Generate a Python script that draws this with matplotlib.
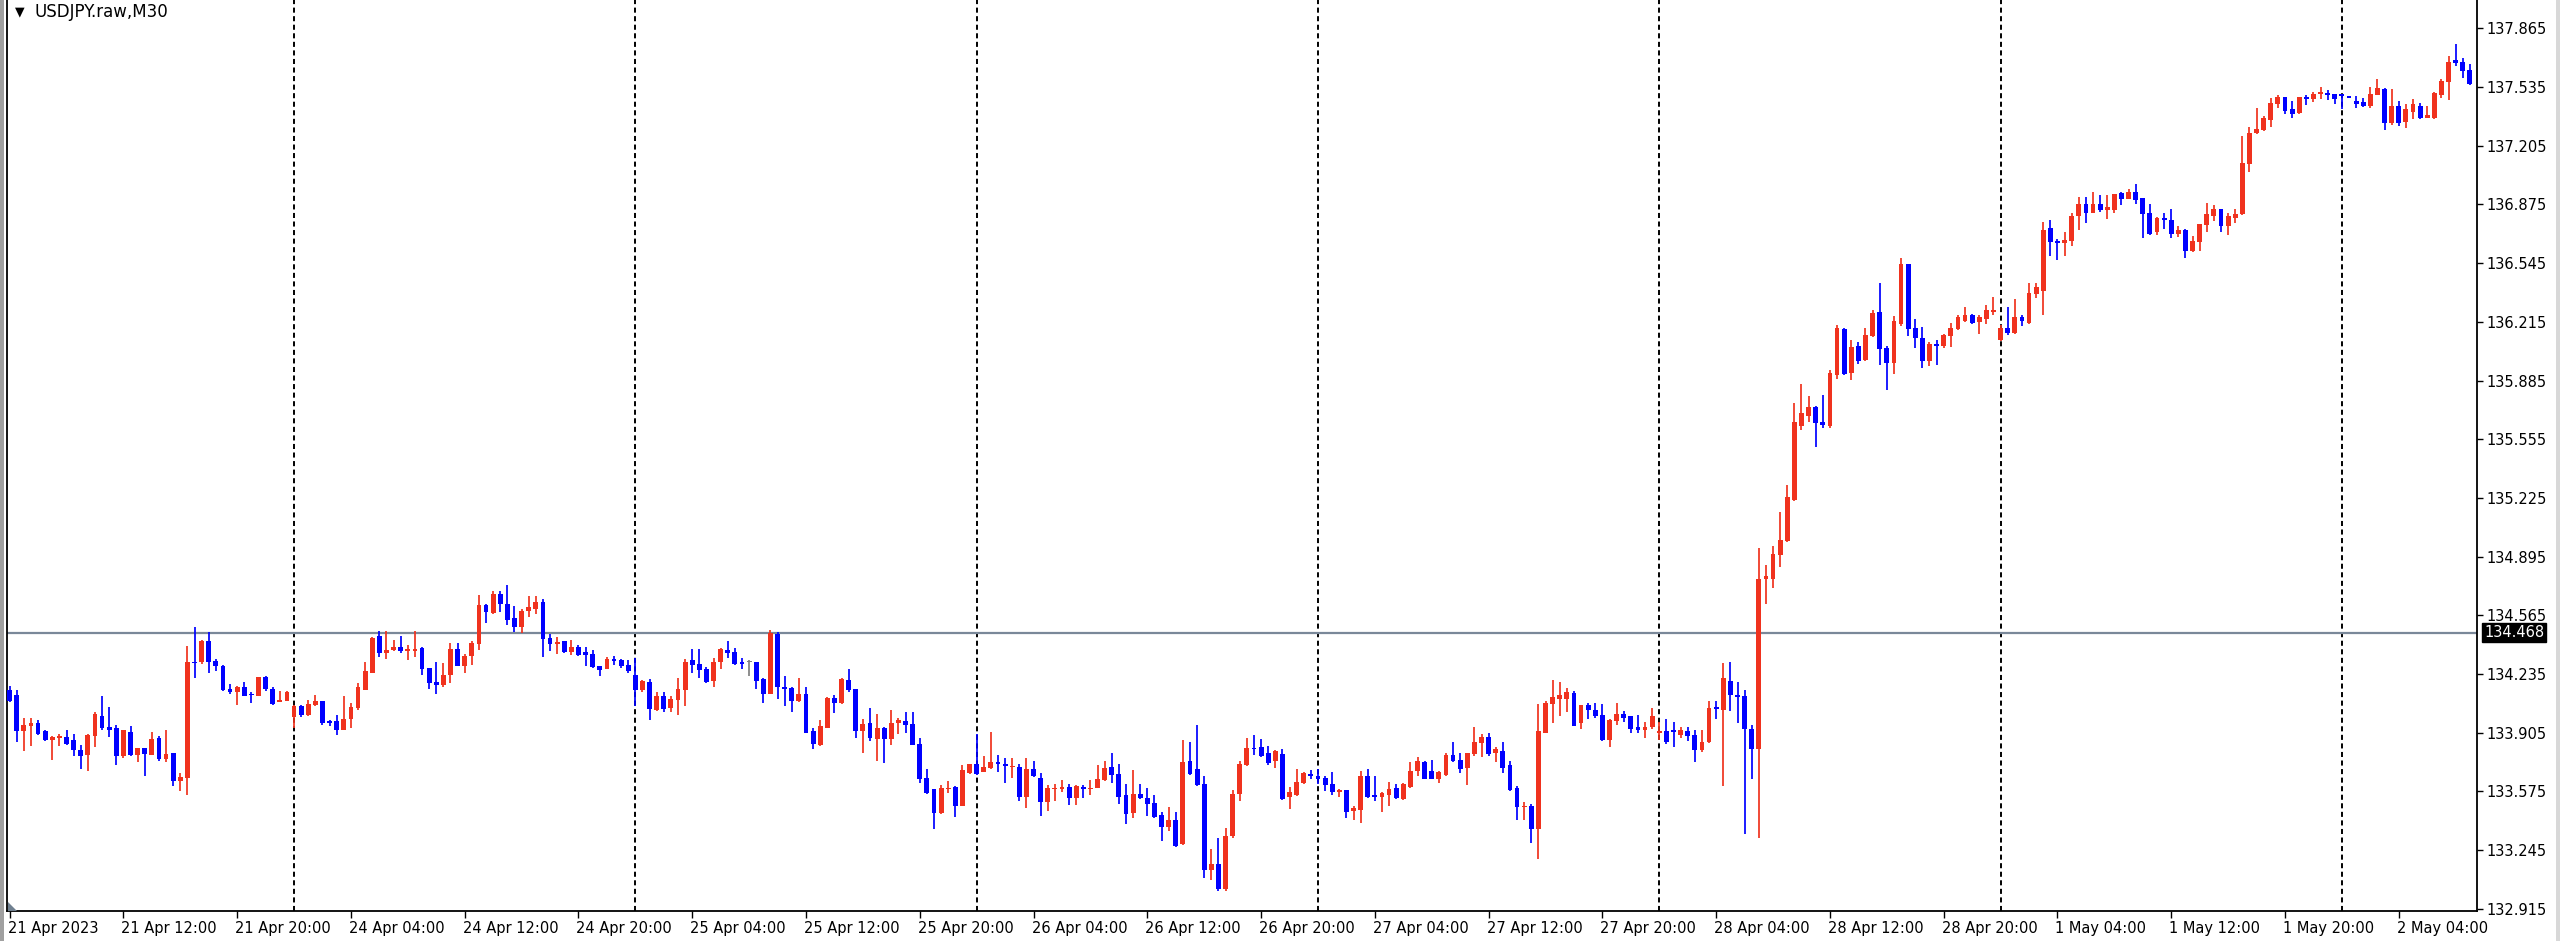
import matplotlib
matplotlib.use("Agg")
import matplotlib.pyplot as plt
from matplotlib.patches import Rectangle, Polygon

# ---------------- data (USDJPY.raw, M30) ----------------
open_ = [134.147,134.119,133.913,133.941,133.960,133.913,133.866,133.875,133.881,133.862,
133.810,133.781,133.885,134.001,133.939,133.931,133.772,133.909,133.781,133.819,
133.781,133.875,133.759,133.791,133.631,133.650,134.303,134.300,134.419,134.310,
134.282,134.151,134.134,134.160,134.123,134.113,134.218,134.153,134.076,134.082,
133.993,134.053,134.003,134.063,134.082,133.965,133.969,133.922,133.982,134.045,
134.147,134.241,134.449,134.354,134.372,134.389,134.367,134.363,134.382,134.269,
134.188,134.175,134.228,134.378,134.282,134.335,134.404,134.622,134.579,134.687,
134.629,134.551,134.500,134.588,134.603,134.639,134.438,134.404,134.419,134.359,
134.389,134.357,134.350,134.279,134.263,134.320,134.314,134.286,134.232,134.143,
134.192,134.031,134.112,134.046,134.087,134.143,134.312,134.294,134.265,134.196,
134.303,134.371,134.361,134.299,134.301,134.303,134.205,134.125,134.459,134.162,
134.155,134.083,134.121,133.915,133.836,133.933,134.102,134.074,134.200,134.149,
133.915,133.961,133.868,133.933,133.868,133.957,133.971,133.952,133.840,133.652,
133.586,133.455,133.586,133.601,133.496,133.680,133.731,133.686,133.705,133.740,
133.722,133.710,133.712,133.543,133.699,133.652,133.515,133.586,133.586,133.601,
133.539,133.599,133.586,133.596,133.637,133.712,133.674,133.553,133.455,133.562,
133.539,133.511,133.440,133.374,133.417,133.281,133.749,133.699,133.618,133.136,
133.168,133.024,133.324,133.558,133.723,133.821,133.825,133.791,133.745,133.784,
133.545,133.557,133.623,133.671,133.664,133.653,133.619,133.571,133.584,133.463,
133.469,133.664,133.557,133.545,133.557,133.596,133.531,133.600,133.692,133.738,
133.690,133.646,133.669,133.779,133.752,133.706,133.784,133.848,133.882,133.791,
133.802,133.722,133.596,133.485,133.492,133.366,133.905,134.066,134.096,134.096,
134.128,133.958,134.062,134.032,134.004,133.866,133.969,134.013,133.997,133.935,
133.922,133.935,133.905,133.917,133.922,133.894,133.917,133.894,133.807,133.851,
134.050,134.032,134.197,134.119,134.112,133.928,133.814,134.768,134.771,134.904,
134.985,135.214,135.627,135.685,135.735,135.650,135.627,135.915,136.172,135.926,
136.080,136.002,136.133,136.270,136.069,135.984,136.200,136.538,136.178,136.125,
135.994,136.088,136.078,136.138,136.172,136.222,136.256,136.213,136.232,136.271,
136.110,136.178,136.153,136.241,136.209,136.374,136.391,136.740,136.669,136.660,
136.669,136.809,136.879,136.828,136.879,136.841,136.841,136.941,136.905,136.946,
136.909,136.828,136.721,136.796,136.785,136.710,136.729,136.613,136.665,136.758,
136.809,136.847,136.753,136.800,136.819,137.104,137.278,137.291,137.347,137.441,
137.479,137.409,137.391,137.479,137.466,137.497,137.503,137.497,137.497,137.484,
137.456,137.453,137.428,137.490,137.522,137.334,137.428,137.340,137.396,137.428,
137.362,137.362,137.490,137.565,137.687,137.678,137.629]

high = [134.166,134.147,133.988,133.988,133.978,133.922,133.885,133.898,133.918,133.898,
133.838,133.898,134.021,134.110,134.050,133.946,133.918,133.941,133.819,133.819,
133.907,133.885,133.920,133.791,133.678,134.391,134.500,134.429,134.470,134.322,
134.288,134.179,134.170,134.188,134.134,134.218,134.222,134.160,134.138,134.142,
134.063,134.063,134.091,134.119,134.082,133.978,134.007,134.110,134.072,134.185,
134.303,134.442,134.479,134.479,134.429,134.447,134.397,134.479,134.385,134.269,
134.301,134.297,134.410,134.410,134.350,134.419,134.682,134.626,134.701,134.701,
134.738,134.616,134.601,134.676,134.672,134.657,134.460,134.444,134.423,134.429,
134.397,134.385,134.370,134.279,134.329,134.335,134.322,134.316,134.325,134.202,
134.205,134.134,134.134,134.112,134.211,134.322,134.374,134.374,134.275,134.323,
134.380,134.421,134.380,134.323,134.312,134.303,134.215,134.481,134.474,134.224,
134.162,134.211,134.162,133.933,133.975,134.105,134.115,134.211,134.262,134.153,
133.980,134.042,134.012,133.935,134.031,133.986,134.021,134.021,133.873,133.699,
133.586,133.614,133.633,133.603,133.723,133.731,133.900,133.774,133.911,133.780,
133.765,133.761,133.727,133.761,133.749,133.680,133.614,133.618,133.637,133.618,
133.614,133.614,133.637,133.723,133.749,133.793,133.731,133.618,133.693,133.618,
133.592,133.554,133.461,133.489,133.461,133.862,133.853,133.948,133.661,133.249,
133.311,133.371,133.581,133.746,133.873,133.890,133.871,133.832,133.807,133.814,
133.600,133.699,133.683,133.694,133.699,133.660,133.683,133.591,133.584,133.492,
133.692,133.699,133.664,133.573,133.630,133.618,133.623,133.738,133.768,133.745,
133.752,133.688,133.791,133.853,133.791,133.791,133.940,133.899,133.905,133.825,
133.853,133.745,133.607,133.515,133.504,134.066,134.082,134.204,134.192,134.158,
134.142,134.062,134.073,134.073,134.066,133.981,134.073,134.027,133.997,134.004,
133.968,134.043,133.963,133.981,133.963,133.935,133.940,133.922,133.922,134.082,
134.082,134.296,134.303,134.188,134.147,133.951,134.946,134.847,134.955,135.145,
135.299,135.758,135.864,135.800,135.742,135.804,135.942,136.195,136.179,136.110,
136.103,136.179,136.282,136.431,136.078,136.247,136.571,136.538,136.228,136.185,
136.103,136.110,136.144,136.209,136.253,136.298,136.260,136.253,136.309,136.354,
136.196,136.298,136.341,136.256,136.434,136.434,136.778,136.785,136.678,136.721,
136.828,136.916,136.916,136.946,136.928,136.928,136.935,136.946,136.959,136.988,
136.909,136.879,136.803,136.828,136.847,136.753,136.734,136.697,136.766,136.884,
136.871,136.847,136.828,136.847,137.259,137.310,137.415,137.372,137.471,137.490,
137.479,137.456,137.479,137.490,137.509,137.535,137.516,137.497,137.497,137.484,
137.484,137.471,137.535,137.578,137.531,137.524,137.456,137.437,137.466,137.447,
137.428,137.509,137.578,137.709,137.779,137.700,137.666]

low = [134.078,133.853,133.800,133.828,133.894,133.856,133.753,133.832,133.834,133.772,
133.703,133.691,133.823,133.922,133.881,133.721,133.763,133.772,133.740,133.663,
133.781,133.749,133.740,133.603,133.575,133.553,134.213,134.290,134.241,134.250,
134.142,134.123,134.063,134.110,134.072,134.113,134.142,134.063,134.076,134.082,
133.931,133.993,134.000,134.053,133.950,133.941,133.894,133.920,133.931,134.035,
134.143,134.240,134.331,134.322,134.363,134.354,134.312,134.331,134.232,134.151,
134.123,134.160,134.185,134.279,134.241,134.288,134.372,134.522,134.573,134.584,
134.513,134.470,134.466,134.554,134.573,134.331,134.363,134.348,134.354,134.344,
134.335,134.282,134.269,134.222,134.263,134.288,134.269,134.241,134.053,134.136,
133.976,134.027,134.023,134.023,134.005,134.055,134.243,134.215,134.183,134.164,
134.262,134.327,134.284,134.262,134.224,134.149,134.074,134.121,134.093,134.055,
134.023,134.080,133.903,133.815,133.830,133.930,134.014,134.065,134.136,133.873,
133.793,133.858,133.746,133.736,133.836,133.900,133.905,133.834,133.624,133.562,
133.365,133.446,133.568,133.432,133.494,133.674,133.670,133.684,133.703,133.686,
133.624,133.652,133.524,133.483,133.656,133.436,133.464,133.524,133.573,133.498,
133.498,133.536,133.555,133.592,133.633,133.624,133.506,133.393,133.427,133.534,
133.436,133.423,133.296,133.352,133.264,133.273,133.670,133.605,133.089,133.080,
133.018,133.014,133.311,133.524,133.718,133.780,133.768,133.722,133.706,133.527,
133.476,133.550,133.619,133.646,133.619,133.577,133.557,133.545,133.423,133.417,
133.400,133.538,133.522,133.458,133.492,133.531,133.527,133.596,133.660,133.646,
133.644,133.623,133.660,133.738,133.676,133.614,133.775,133.768,133.775,133.738,
133.676,133.577,133.417,133.417,133.286,133.194,133.903,133.958,133.997,134.020,
133.943,133.928,133.981,133.990,133.860,133.825,133.951,133.963,133.905,133.905,
133.876,133.928,133.866,133.844,133.825,133.876,133.860,133.738,133.798,133.849,
133.981,133.607,134.027,133.958,133.338,133.646,133.315,134.629,134.716,134.835,
134.980,135.207,135.605,135.650,135.513,135.616,135.620,135.896,135.915,135.887,
135.979,135.995,136.131,135.972,135.834,135.922,136.191,136.134,136.065,135.953,
135.966,135.971,136.069,136.073,136.170,136.215,136.200,136.144,136.204,136.253,
136.108,136.140,136.148,136.191,136.205,136.350,136.253,136.584,136.560,136.584,
136.641,136.729,136.772,136.826,136.834,136.791,136.828,136.871,136.903,136.879,
136.684,136.703,136.703,136.734,136.684,136.691,136.571,136.610,136.613,136.721,
136.781,136.721,136.703,136.772,136.815,137.059,137.273,137.288,137.310,137.419,
137.381,137.362,137.381,137.434,137.453,137.466,137.460,137.441,137.409,137.471,
137.415,137.422,137.419,137.488,137.291,137.321,137.316,137.303,137.353,137.353,
137.362,137.353,137.471,137.460,137.653,137.584,137.546]

close = [134.082,133.913,133.950,133.960,133.900,133.866,133.879,133.881,133.843,133.806,
133.772,133.890,134.012,133.931,133.922,133.772,133.918,133.781,133.819,133.785,
133.870,133.759,133.787,133.631,133.659,134.303,134.295,134.419,134.303,134.282,
134.143,134.134,134.162,134.113,134.115,134.218,134.153,134.068,134.091,134.132,
134.053,134.003,134.068,134.082,133.960,133.960,133.922,133.982,134.048,134.160,
134.250,134.438,134.354,134.369,134.389,134.363,134.370,134.378,134.263,134.185,
134.175,134.228,134.378,134.282,134.339,134.410,134.622,134.584,134.687,134.626,
134.541,134.500,134.592,134.612,134.639,134.432,134.404,134.410,134.359,134.389,
134.344,134.344,134.273,134.256,134.320,134.307,134.282,134.250,134.147,134.196,
134.036,134.112,134.036,134.093,134.149,134.303,134.286,134.256,134.190,134.303,
134.374,134.355,134.290,134.294,134.301,134.196,134.121,134.468,134.162,134.149,
134.083,134.121,133.905,133.843,133.943,134.102,134.074,134.205,134.143,133.915,
133.952,133.877,133.933,133.868,133.961,133.975,133.948,133.836,133.643,133.568,
133.455,133.592,133.592,133.496,133.693,133.727,133.674,133.712,133.740,133.727,
133.718,133.712,133.543,133.699,133.661,133.515,133.596,133.592,133.599,133.539,
133.605,133.586,133.592,133.643,133.705,133.667,133.543,133.446,133.562,133.536,
133.506,133.431,133.374,133.417,133.271,133.740,133.674,133.611,133.136,133.168,
133.024,133.327,133.562,133.731,133.821,133.812,133.775,133.733,133.802,133.531,
133.573,133.630,133.676,133.660,133.646,133.614,133.573,133.584,133.458,133.481,
133.664,133.545,133.545,133.568,133.591,133.538,133.618,133.692,133.745,133.646,
133.646,133.683,133.779,133.745,133.699,133.791,133.853,133.882,133.784,133.814,
133.706,133.584,133.485,133.492,133.366,133.917,134.073,134.105,134.119,134.135,
133.945,134.062,134.032,133.997,133.866,133.974,134.013,133.986,133.928,133.922,
133.935,133.997,133.917,133.853,133.912,133.922,133.889,133.807,133.853,134.043,
134.036,134.211,134.119,134.105,133.928,133.814,134.771,134.785,134.909,134.991,
135.230,135.650,135.703,135.735,135.644,135.634,135.926,136.179,135.919,136.071,
135.995,136.140,136.263,136.064,135.984,136.219,136.538,136.172,136.125,135.994,
136.088,136.078,136.140,136.178,136.241,136.256,136.209,136.241,136.279,136.279,
136.178,136.153,136.241,136.222,136.378,136.410,136.729,136.665,136.660,136.675,
136.809,136.879,136.828,136.879,136.841,136.860,136.931,136.903,136.946,136.898,
136.823,136.710,136.796,136.785,136.706,136.729,136.613,136.669,136.763,136.819,
136.847,136.753,136.809,136.819,137.109,137.278,137.297,137.362,137.447,137.479,
137.400,137.381,137.479,137.466,137.497,137.503,137.490,137.466,137.484,137.471,
137.441,137.428,137.497,137.528,137.334,137.428,137.334,137.409,137.437,137.359,
137.376,137.503,137.569,137.678,137.672,137.625,137.550]

time_tick_idx = [0,16,32,48,64,80,96,112,128,144,160,176,192,208,224,240,256,272,288,304,320,336]
time_tick_labels = ["21 Apr 2023","21 Apr 12:00","21 Apr 20:00","24 Apr 04:00","24 Apr 12:00",
                    "24 Apr 20:00","25 Apr 04:00","25 Apr 12:00","25 Apr 20:00","26 Apr 04:00",
                    "26 Apr 12:00","26 Apr 20:00","27 Apr 04:00","27 Apr 12:00","27 Apr 20:00",
                    "28 Apr 04:00","28 Apr 12:00","28 Apr 20:00","1 May 04:00","1 May 12:00",
                    "1 May 20:00","2 May 04:00"]
day_start_idx = [40, 88, 136, 184, 232, 280, 328]
price_ticks = [132.915,133.245,133.575,133.905,134.235,134.565,134.895,135.225,
               135.555,135.885,136.215,136.545,136.875,137.205,137.535,137.865]
hline_price = 134.468
title = "USDJPY.raw,M30"

# ---------------- drawing ----------------
W, H = 2560, 941
FONT = "DejaVu Sans"
FS = 10.5
fig = plt.figure(figsize=(W/100, H/100), dpi=100)
fig.patch.set_facecolor("white")
ax = fig.add_axes([7/W, 30/H, (2477-7)/W, 911/H])
ax.set_facecolor("white")

RED = "#F0321E"
BLUE = "#0000FF"
GRAY = "#808080"

n = len(open_)
xs = list(range(n))
cols = []
for o, c in zip(open_, close):
    cols.append(RED if c > o else (BLUE if c < o else GRAY))

ax.vlines(xs, low, high, colors=cols, linewidth=1.25, zorder=3)
bottoms = [min(o, c) for o, c in zip(open_, close)]
heights = [max(abs(c - o), 0.009) for o, c in zip(open_, close)]
ax.bar(xs, heights, bottom=bottoms, width=0.68, color=cols, edgecolor="none", zorder=4)

for d in day_start_idx:
    ax.axvline(d, color="black", linewidth=1.4, linestyle=(0, (2.6, 1.8)), zorder=2)

ax.axhline(hline_price, color="#7A8899", linewidth=1.6, zorder=2.5)

ax.set_xlim(-0.37, 347.0)
ax.set_ylim(132.903, 138.024)

ax.spines["top"].set_visible(False)
for s in ["left", "bottom", "right"]:
    ax.spines[s].set_color("black")
    ax.spines[s].set_linewidth(1.3)

ax.yaxis.tick_right()
ax.set_yticks(price_ticks)
ax.set_yticklabels([f"{p:.3f}" for p in price_ticks], fontsize=FS, fontfamily=FONT)
ax.tick_params(axis="y", direction="out", length=4, width=1, pad=3, colors="black")

ax.set_xticks(time_tick_idx)
ax.set_xticklabels([])
ax.tick_params(axis="x", direction="out", length=5, width=1, colors="black")
for i, lab in zip(time_tick_idx, time_tick_labels):
    ax.annotate(lab, xy=(i, 0), xycoords=("data", "axes fraction"),
                xytext=(-2, -18), textcoords="offset pixels",
                ha="left", va="center", fontsize=FS, fontfamily=FONT, color="black",
                annotation_clip=False)

# price label box for the horizontal line
ax.annotate(f"{hline_price:.3f}", xy=(1, hline_price), xycoords=("axes fraction", "data"),
            xytext=(7, 0), textcoords="offset pixels", ha="left", va="center",
            fontsize=FS, fontfamily=FONT, color="white",
            bbox=dict(boxstyle="square,pad=0.12", fc="black", ec="black"),
            annotation_clip=False, zorder=10)

# title
fig.text(15/W, 1 - 12/H, "\u25BC", fontsize=9, fontfamily=FONT, ha="left", va="center", color="black")
fig.text(35/W, 1 - 12/H, title, fontsize=12, fontfamily=FONT, ha="left", va="center", color="black")

# window frame bits
fig.patches.append(Rectangle((0, 0), 4/W, 1, transform=fig.transFigure, fc="#A0A0A0", ec="none"))
fig.patches.append(Rectangle((2556/W, 0), 4/W, 1, transform=fig.transFigure, fc="#D8D8D8", ec="none"))
fig.patches.append(Polygon([(8/W, 30/H), (8/W, 39/H), (17/W, 30/H)], closed=True,
                           transform=fig.transFigure, fc="#708090", ec="none"))

fig.savefig("out.png", dpi=100, facecolor="white")
